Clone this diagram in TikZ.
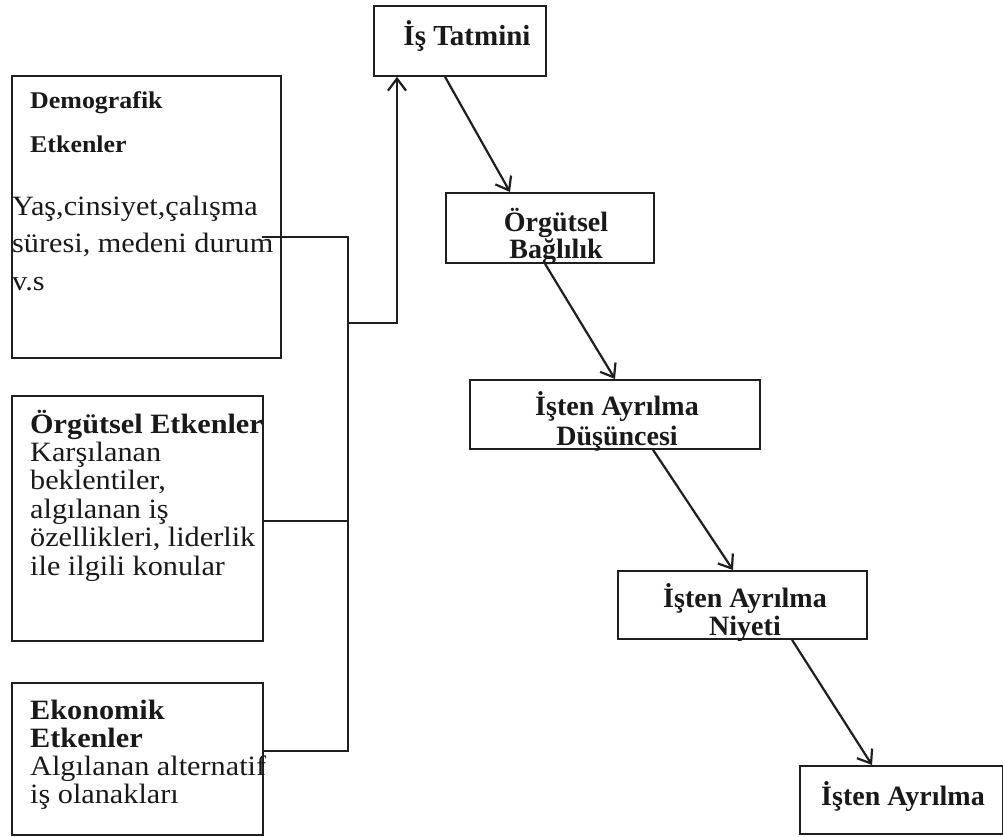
\documentclass[tikz,border=0pt]{standalone}
\usepackage{fontspec}
\setmainfont{Liberation Serif}
\newfontfamily\widefont[FakeStretch=1.08]{Liberation Serif}
\usepackage{tikz}
\usetikzlibrary{positioning,arrows.meta}
\colorlet{LINECOLOR}{black!88}
\colorlet{TEXTCOLOR}{black!90}
\tikzset{
  box-style/.style = {
    rectangle, draw=LINECOLOR, line width=1.8pt,
    inner sep=0pt, anchor=north west
  },
  factor-text-style/.style = {
    anchor=base west, inner sep=0pt, align=left, text=TEXTCOLOR
  },
  stage-text-style/.style = {
    anchor=base, inner sep=0pt, align=center, text=TEXTCOLOR
  },
  bus-style/.style = {
    draw=LINECOLOR, line width=2.6pt
  },
  flow-style/.style = {
    draw=LINECOLOR, line width=2.2pt,
    -{Straight Barb[length=12pt,width=18pt,line width=2.2pt]}
  }
}

\begin{document}
\begin{tikzpicture}[x=1pt,y=-1pt]
    \useasboundingbox (0,0) rectangle (1003,836);

    %%% factor boxes
    \node[box-style,minimum width=269,minimum height=282] (demo) at (11,75) {};
    \node[box-style,minimum width=251,minimum height=245] (org) at (11,395) {};
    \node[box-style,minimum width=251,minimum height=152] (eko) at (11,682) {};

    % text nodes sit on the baseline of their last line
    \node[factor-text-style,font=\widefont\bfseries\fontsize{24}{44}\selectfont] (demoTitle) at (30,152) {Demografik\\Etkenler};
    \node[factor-text-style,font=\widefont\fontsize{28}{37.5}\selectfont] (demoText) at (12,290) {Yaş,cinsiyet,çalışma\\süresi, medeni durum\\v.s};
    \node[factor-text-style,font=\widefont\fontsize{28}{28.4}\selectfont] (orgText) at (30,575)
      {\textbf{Örgütsel Etkenler}\\Karşılanan\\beklentiler,\\algılanan iş\\özellikleri, liderlik\\ile ilgili konular};
    \node[factor-text-style,font=\widefont\fontsize{28}{27.7}\selectfont] (ekoText) at (30,803)
      {\textbf{Ekonomik}\\\textbf{Etkenler}\\Algılanan alternatif\\iş olanakları};

    %%% stage boxes
    \node[box-style,minimum width=172,minimum height=70] (tatmin) at (373,5) {};
    \node[box-style,minimum width=208,minimum height=70] (baglilik) at (445,192) {};
    \node[box-style,minimum width=290,minimum height=69] (dusunce) at (469,379) {};
    \node[box-style,minimum width=249,minimum height=68] (niyet) at (617,570) {};
    \node[box-style,minimum width=203,minimum height=68] (ayrilma) at (799,765) {};

    \node[stage-text-style,font=\bfseries\fontsize{29}{28}\selectfont] (tatminText) at (467,45) {İş Tatmini};
    \node[stage-text-style,font=\bfseries\fontsize{28}{23}\selectfont] (baglilikText) at (556,258) {Örgütsel\\Bağlılık};
    \node[stage-text-style,font=\bfseries\fontsize{28}{30}\selectfont] (dusunceText) at (617,445) {İşten Ayrılma\\Düşüncesi};
    \node[stage-text-style,font=\bfseries\fontsize{28}{28}\selectfont] (niyetText) at (745,635) {İşten Ayrılma\\Niyeti};
    \node[stage-text-style,font=\bfseries\fontsize{28}{28}\selectfont] (ayrilmaText) at (903,805) {İşten Ayrılma};

    %%% bus lines
    \coordinate (demoOut) at (262,237);
    \coordinate (ekoOut) at (262,751);
    \coordinate (busTop) at (348,237);
    \coordinate (busBottom) at (348,751);
    \coordinate (busJoin) at (348,323);
    \draw[bus-style] (demoOut) -- (busTop) -- (busBottom) -- (ekoOut);
    \draw[bus-style] ([yshift=-2.5pt]org.east) -- ([yshift=-2.5pt]org.east -| busTop);

    %%% arrows
    \draw[flow-style,line width=2.6pt] (busJoin) -| ([xshift=24pt]tatmin.south west);
    \draw[flow-style] ([xshift=72pt]tatmin.south west) -- ([xshift=65pt]baglilik.north west);
    \draw[flow-style] ([xshift=100pt]baglilik.south west) -- ([xshift=146pt]dusunce.north west);
    \draw[flow-style] ([xshift=184pt]dusunce.south west) -- ([xshift=116pt]niyet.north west);
    \draw[flow-style] ([xshift=175pt]niyet.south west) -- ([xshift=73pt]ayrilma.north west);
\end{tikzpicture}
\end{document}
